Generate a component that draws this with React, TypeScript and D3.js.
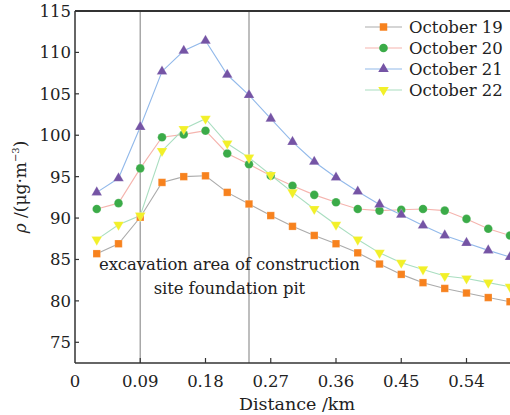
import React, { useEffect, useRef } from 'react'
import * as d3 from 'd3'

// distance along the transect (km)
const distances = [
  0.03, 0.06, 0.09, 0.12, 0.15, 0.18, 0.21, 0.24, 0.27, 0.3, 0.33, 0.36, 0.39, 0.42, 0.45, 0.48, 0.51,
  0.54, 0.57, 0.6,
]

// PM concentration per day (µg/m3)
const oct19 = [
  85.7, 86.9, 90.1, 94.3, 95.0, 95.1, 93.1, 91.7, 90.3, 89.0, 87.9, 86.9, 85.8, 84.45, 83.2, 82.2, 81.5,
  80.95, 80.4, 79.9,
]
const oct20 = [
  91.1, 91.8, 96.0, 99.75, 100.1, 100.55, 97.8, 96.5, 95.1, 93.9, 92.8, 91.9, 91.1, 90.9, 91.0, 91.1, 90.9,
  89.9, 88.7, 87.9,
]
const oct21 = [
  93.1, 94.8, 101.0, 107.7, 110.2, 111.4, 107.3, 104.85, 102.0, 99.2, 96.8, 94.9, 93.2, 91.65, 90.4, 89.1,
  87.9, 87.0, 86.1, 85.3,
]
const oct22 = [
  87.4, 89.2, 90.3, 98.1, 100.75, 102.0, 99.0, 97.3, 95.2, 93.1, 91.1, 89.2, 87.4, 85.8, 84.6, 83.8, 83.0,
  82.7, 82.2, 81.7,
]

const seriesNames = ['October 19', 'October 20', 'October 21', 'October 22']
const xTicks = [0, 0.09, 0.18, 0.27, 0.36, 0.45, 0.54]
const yTicks = [75, 80, 85, 90, 95, 100, 105, 110, 115]
const zoneEdges = [0.09, 0.24]

const FONT = '"DejaVu Serif", serif'

const App = () => {
  const svgRef = useRef<SVGSVGElement>(null)

  useEffect(() => {
    const W = 510
    const H = 415
    const margin = { top: 11, right: 0, bottom: 52, left: 75 }
    const width = W - margin.left - margin.right
    const height = H - margin.top - margin.bottom

    const x = d3.scaleLinear().domain([0, 0.6]).range([0, width])
    const y = d3.scaleLinear().domain([72.5, 115]).range([height, 0])

    const svg = d3.select(svgRef.current)
    svg.selectAll('*').remove()
    svg.attr('width', W).attr('height', H)

    const g = svg.append('g').attr('transform', `translate(${margin.left},${margin.top})`)

    // construction zone boundaries
    g.selectAll('.zone')
      .data(zoneEdges)
      .enter()
      .append('line')
      .attr('x1', (d) => x(d))
      .attr('x2', (d) => x(d))
      .attr('y1', 0)
      .attr('y2', height)
      .attr('stroke', '#a8a8a8')
      .attr('stroke-width', 1.5)

    // annotation
    const note = g
      .append('text')
      .attr('text-anchor', 'middle')
      .style('font-family', FONT)
      .style('font-size', '16.5px')
      .style('letter-spacing', '-0.1px')
      .attr('fill', '#222')
    note.append('tspan').attr('x', x(0.213)).attr('y', y(84.5) + 6).text('excavation area of construction')
    note.append('tspan').attr('x', x(0.213)).attr('y', y(81.6) + 6).text('site foundation pit')

    const series = [
      { name: seriesNames[0], values: oct19, line: '#ababab', fill: '#f7821e', symbol: d3.symbolSquare, size: 56, rot: 0 },
      { name: seriesNames[1], values: oct20, line: '#f5b4ae', fill: '#3bab48', symbol: d3.symbolCircle, size: 58, rot: 0 },
      { name: seriesNames[2], values: oct21, line: '#92b9ea', fill: '#7554a5', symbol: d3.symbolTriangle, size: 48, rot: 0 },
      { name: seriesNames[3], values: oct22, line: '#a9dec0', fill: '#f2f029', symbol: d3.symbolTriangle, size: 48, rot: 180 },
    ]

    const line = d3
      .line<number>()
      .x((d, i) => x(distances[i]))
      .y((d) => y(d))

    series.forEach((s) => {
      g.append('path')
        .attr('d', line(s.values))
        .attr('fill', 'none')
        .attr('stroke', s.line)
        .attr('stroke-width', 1.1)
    })

    series.forEach((s) => {
      const sym = d3.symbol().type(s.symbol).size(s.size)
      g.selectAll(null)
        .data(s.values)
        .enter()
        .append('path')
        .attr('d', sym())
        .attr('transform', (d, i) => `translate(${x(distances[i])},${y(d)}) rotate(${s.rot})`)
        .attr('fill', s.fill)
        .attr('stroke', 'rgba(255,255,255,0.35)')
        .attr('stroke-width', 0.6)
    })

    // frame: left, bottom, top
    g.append('line').attr('x1', 0).attr('x2', 0).attr('y1', 0).attr('y2', height).attr('stroke', '#333').attr('stroke-width', 1.5)
    g.append('line').attr('x1', 0).attr('x2', width).attr('y1', height).attr('y2', height).attr('stroke', '#333').attr('stroke-width', 1.5)
    g.append('line').attr('x1', 0).attr('x2', width).attr('y1', 0).attr('y2', 0).attr('stroke', '#333').attr('stroke-width', 1.8)

    // x ticks (inward)
    const xt = g.selectAll('.xt').data(xTicks).enter().append('g').attr('transform', (d) => `translate(${x(d)},${height})`)
    xt.filter((d) => d > 0).append('line').attr('y1', 0).attr('y2', -5).attr('stroke', '#333').attr('stroke-width', 1.2)
    xt.append('text')
      .text((d) => (d === 0 ? '0' : d3.format('.2f')(d)))
      .attr('text-anchor', 'middle')
      .attr('y', 24)
      .style('font-family', FONT)
      .style('font-size', '16.5px')
      .attr('fill', '#222')

    // y ticks (inward)
    const yt = g.selectAll('.yt').data(yTicks).enter().append('g').attr('transform', (d) => `translate(0,${y(d)})`)
    yt.filter((d) => d < 115).append('line').attr('x1', 0).attr('x2', 4).attr('stroke', '#333').attr('stroke-width', 1.2)
    yt.append('text')
      .text((d) => d)
      .attr('text-anchor', 'end')
      .attr('x', -4)
      .attr('dy', '0.36em')
      .style('font-family', FONT)
      .style('font-size', '16.5px')
      .attr('fill', '#222')

    // axis labels
    svg
      .append('text')
      .text('Distance /km')
      .attr('text-anchor', 'middle')
      .attr('x', 297)
      .attr('y', 410)
      .style('font-family', FONT)
      .style('font-size', '17.5px')
      .attr('fill', '#222')

    const yl = svg
      .append('text')
      .attr('text-anchor', 'middle')
      .attr('transform', `translate(26,${margin.top + height / 2}) rotate(-90)`)
      .style('font-family', FONT)
      .style('font-size', '17px')
      .attr('fill', '#222')
    yl.append('tspan').style('font-style', 'italic').text('ρ')
    yl.append('tspan').text(' /(μg·m')
    yl.append('tspan').attr('dy', -7).style('font-size', '10px').text('−3')
    yl.append('tspan').attr('dy', 7).text(')')

    // legend
    const legend = svg
      .selectAll('.legend')
      .data(series)
      .enter()
      .append('g')
      .attr('transform', (d, i) => `translate(365,${27 + i * 21})`)
    legend.append('line').attr('x1', 0).attr('x2', 37).attr('stroke', (d) => d.line).attr('stroke-width', 1.2)
    legend
      .append('path')
      .attr('d', (d) => d3.symbol().type(d.symbol).size(d.size)())
      .attr('transform', (d) => `translate(18.5,0) rotate(${d.rot})`)
      .attr('fill', (d) => d.fill)
    legend
      .append('text')
      .text((d) => d.name)
      .attr('x', 44)
      .attr('dy', '0.36em')
      .style('font-family', FONT)
      .style('font-size', '16.5px')
      .attr('fill', '#222')
  }, [])

  return <svg ref={svgRef} style={{ position: 'absolute', left: 0, top: 0 }}></svg>
}

export default App
